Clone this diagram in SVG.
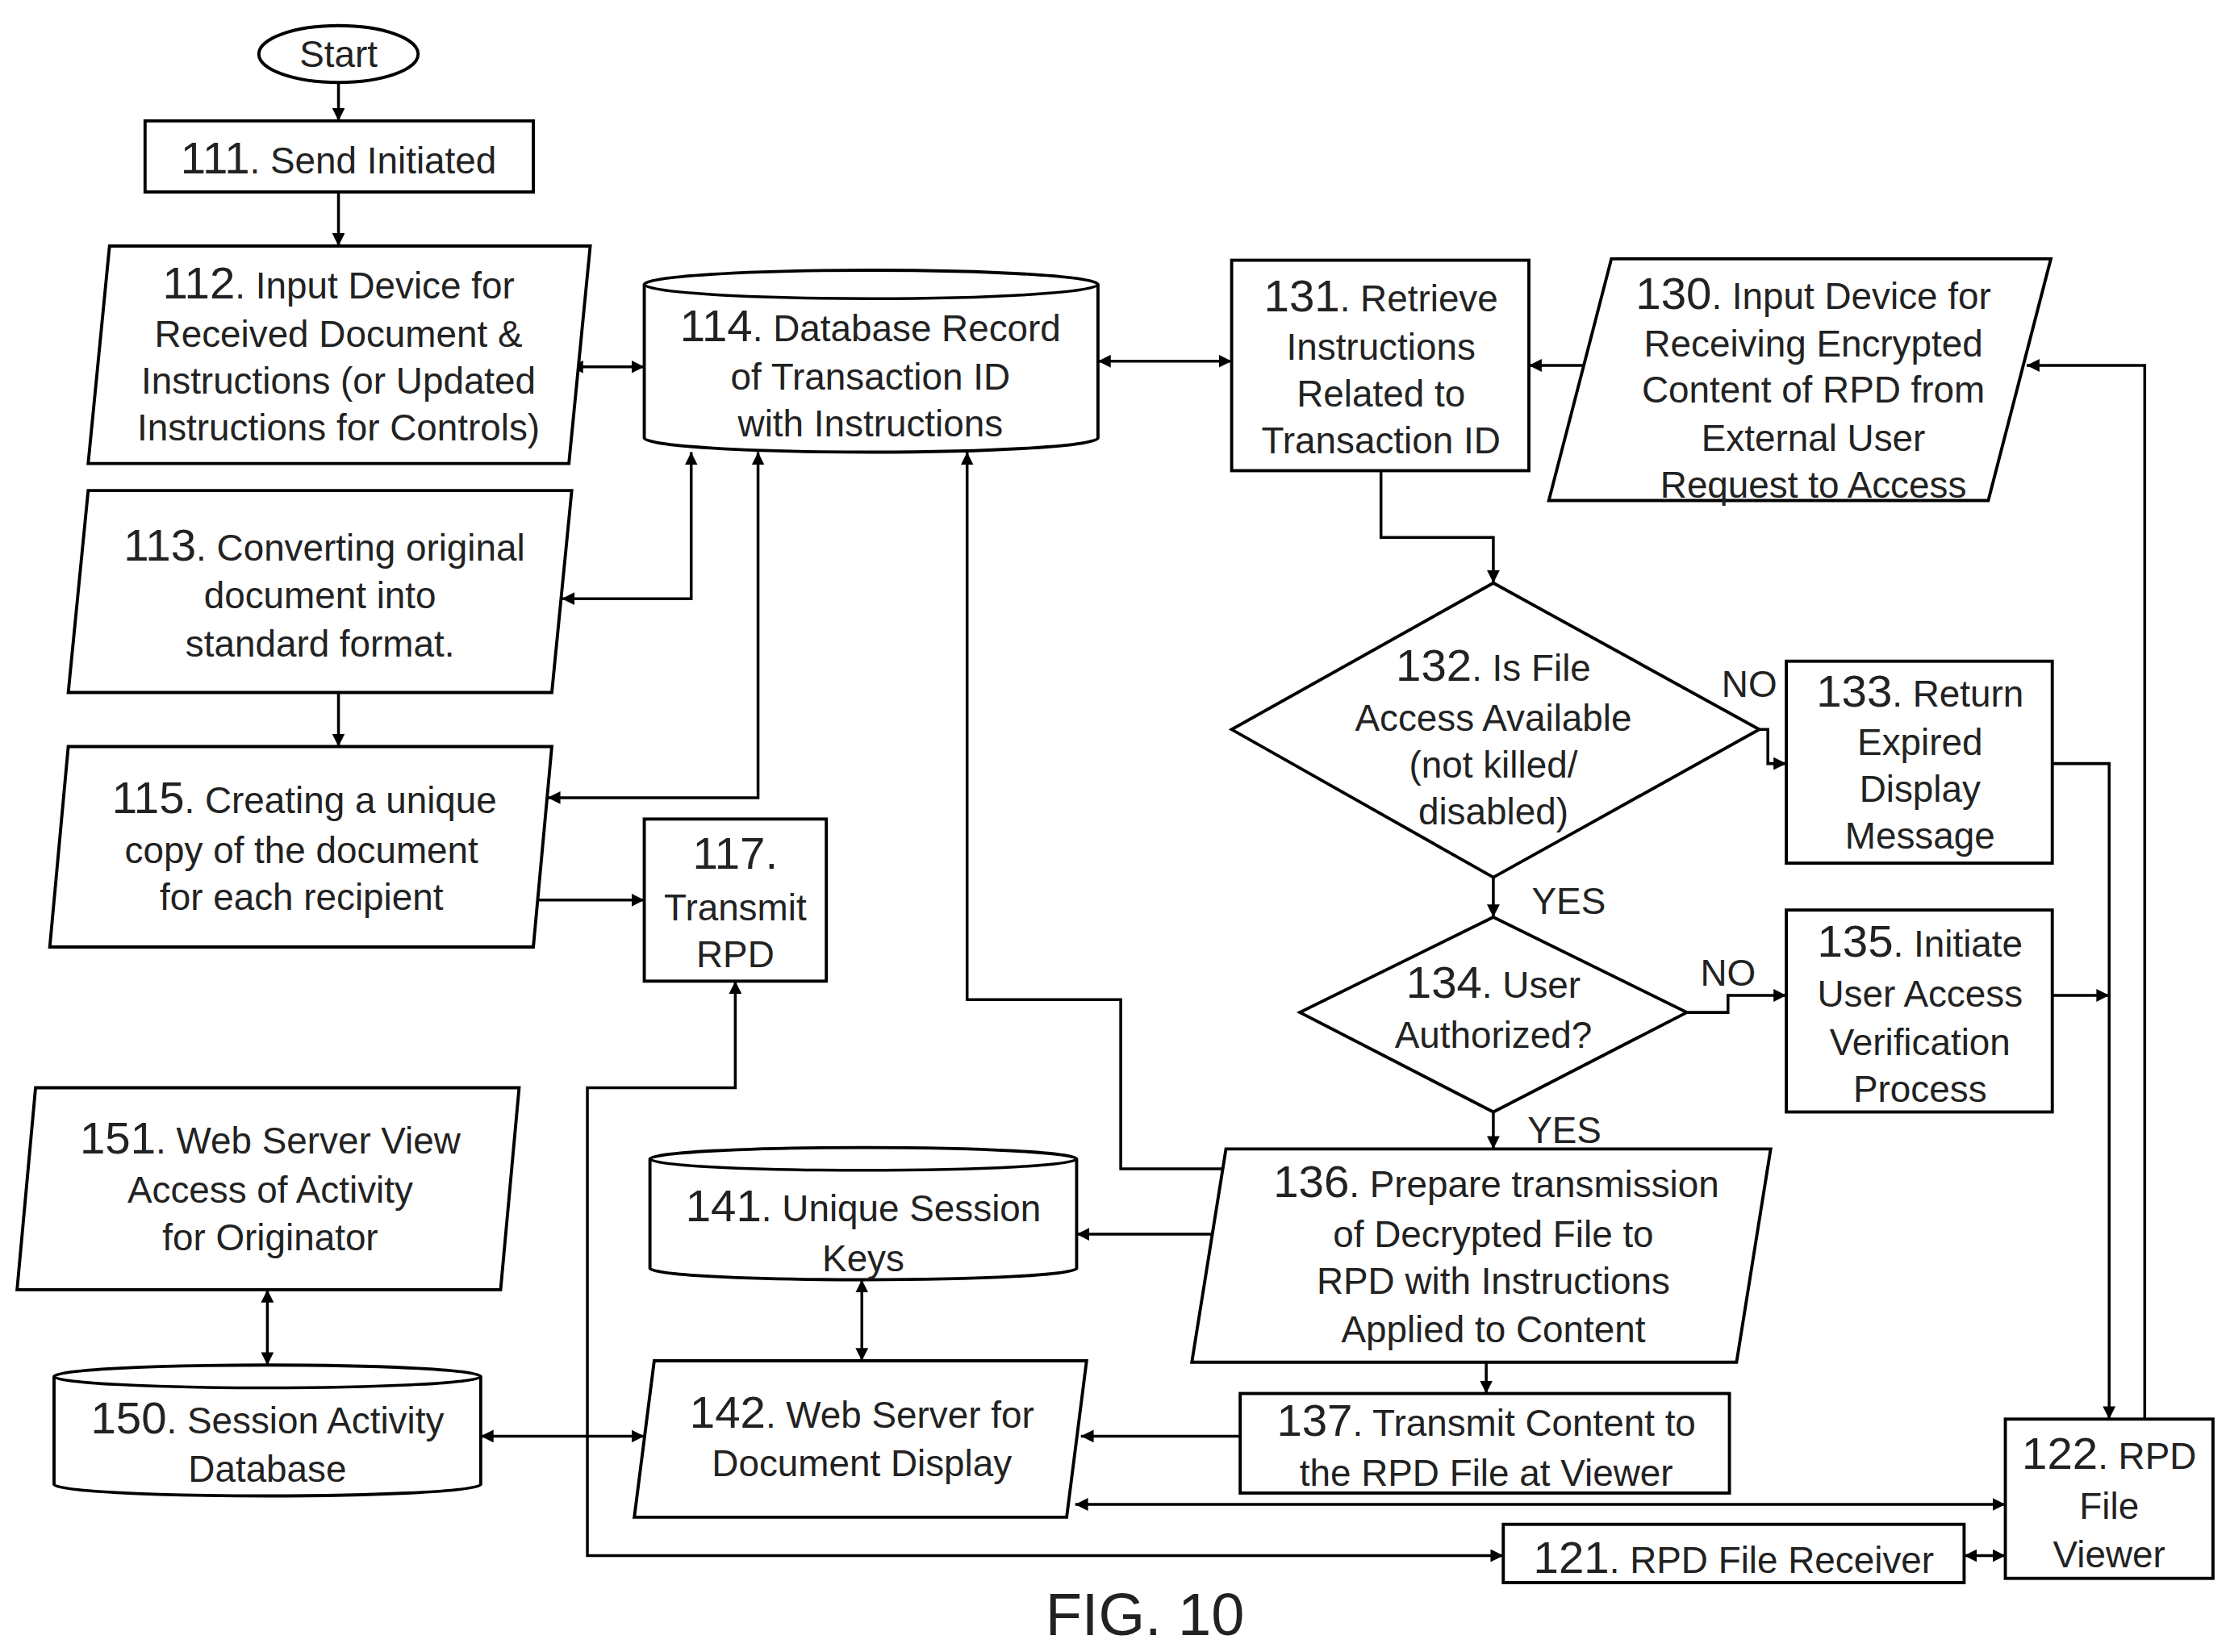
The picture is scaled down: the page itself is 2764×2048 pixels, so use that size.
<svg xmlns="http://www.w3.org/2000/svg" width="2764" height="2048" viewBox="0 0 2764 2048">
<style>
.s{fill:#fff;stroke:#000;stroke-width:2.2}
.c{fill:none;stroke:#000;stroke-width:2}
text{font-family:"Liberation Sans",Arial,sans-serif;font-size:26px;text-anchor:middle;fill:#222}
.n{font-size:32px}
</style>
<defs>
<marker id="a" viewBox="0 0 10 10" refX="10" refY="5" markerWidth="9" markerHeight="9" markerUnits="userSpaceOnUse" orient="auto-start-reverse"><path d="M0,0L10,5L0,10z" fill="#000"/></marker>
</defs>
<rect width="2764" height="2048" fill="#fff"/>
<g transform="scale(1.7628)">
<g id="connectors" class="c">
<path d="M238,58V85" marker-end="url(#a)"/>
<path d="M238,135V173" marker-end="url(#a)"/>
<path d="M401,258H453" marker-start="url(#a)" marker-end="url(#a)"/>
<path d="M395,421H486V318" marker-start="url(#a)" marker-end="url(#a)"/>
<path d="M385,561H533V318" marker-start="url(#a)" marker-end="url(#a)"/>
<path d="M238,487V525" marker-end="url(#a)"/>
<path d="M375,633H453" marker-end="url(#a)"/>
<path d="M772,254H866" marker-start="url(#a)" marker-end="url(#a)"/>
<path d="M1117,257H1075" marker-end="url(#a)"/>
<path d="M971,331V378H1050V410" marker-end="url(#a)"/>
<path d="M1237,513H1243V537H1256" marker-end="url(#a)"/>
<path d="M1050,617V645" marker-end="url(#a)"/>
<path d="M1186,712H1215V700H1256" marker-end="url(#a)"/>
<path d="M1050,782V808" marker-end="url(#a)"/>
<path d="M1443,537H1483V998" marker-end="url(#a)"/>
<path d="M1443,700H1483" marker-end="url(#a)"/>
<path d="M1508,998V257H1425" marker-end="url(#a)"/>
<path d="M680,318V703H788V822H872" marker-start="url(#a)" marker-end="url(#a)"/>
<path d="M862,868H757" marker-end="url(#a)"/>
<path d="M606,900V957" marker-start="url(#a)" marker-end="url(#a)"/>
<path d="M1045,958V980" marker-end="url(#a)"/>
<path d="M872,1010H760" marker-end="url(#a)"/>
<path d="M188,907V960" marker-start="url(#a)" marker-end="url(#a)"/>
<path d="M338,1010H453" marker-start="url(#a)" marker-end="url(#a)"/>
<path d="M756,1058H1410" marker-start="url(#a)" marker-end="url(#a)"/>
<path d="M1381,1094H1410" marker-start="url(#a)" marker-end="url(#a)"/>
<path d="M517,690V765H413V1094H1057" marker-start="url(#a)" marker-end="url(#a)"/>
</g>
<g id="start"><ellipse class="s" cx="238" cy="38" rx="56" ry="20"/><text x="238" y="47">Start</text></g>
<g id="n111"><rect class="s" x="102" y="85" width="273" height="50"/><text x="238" y="122"><tspan class="n">111</tspan>. Send Initiated</text></g>
<g id="n112"><polygon class="s" points="77,173 415,173 400,326 62,326"/><text x="238" y="210"><tspan class="n">112</tspan>. Input Device for</text><text x="238" y="244">Received Document &amp;</text><text x="238" y="277">Instructions (or Updated</text><text x="238" y="310">Instructions for Controls)</text></g>
<g id="n114"><path class="s" d="M453,200A159.5,10 0 0 1 772,200V308A159.5,10 0 0 1 453,308Z"/><path class="c" d="M453,200A159.5,10 0 0 0 772,200"/><text x="612" y="240"><tspan class="n">114</tspan>. Database Record</text><text x="612" y="274">of Transaction ID</text><text x="612" y="307">with Instructions</text></g>
<g id="n113"><polygon class="s" points="62,345 402,345 388,487 48,487"/><text x="228" y="394"><tspan class="n">113</tspan>. Converting original</text><text x="225" y="428">document into</text><text x="225" y="462">standard format.</text></g>
<g id="n115"><polygon class="s" points="48,525 388,525 375,666 35,666"/><text x="214" y="572"><tspan class="n">115</tspan>. Creating a unique</text><text x="212" y="607">copy of the document</text><text x="212" y="640">for each recipient</text></g>
<g id="n117"><rect class="s" x="453" y="576" width="128" height="114"/><text x="517" y="611" class="n">117.</text><text x="517" y="647">Transmit</text><text x="517" y="680">RPD</text></g>
<g id="n151"><polygon class="s" points="25,765 365,765 352,907 12,907"/><text x="190" y="811"><tspan class="n">151</tspan>. Web Server View</text><text x="190" y="846">Access of Activity</text><text x="190" y="879">for Originator</text></g>
<g id="n150"><path class="s" d="M38,968A150,8 0 0 1 338,968V1044A150,8 0 0 1 38,1044Z"/><path class="c" d="M38,968A150,8 0 0 0 338,968"/><text x="188" y="1008"><tspan class="n">150</tspan>. Session Activity</text><text x="188" y="1042">Database</text></g>
<g id="n141"><path class="s" d="M457,815A150,8 0 0 1 757,815V892A150,8 0 0 1 457,892Z"/><path class="c" d="M457,815A150,8 0 0 0 757,815"/><text x="607" y="859"><tspan class="n">141</tspan>. Unique Session</text><text x="607" y="894">Keys</text></g>
<g id="n142"><polygon class="s" points="460,957 764,957 750,1067 446,1067"/><text x="606" y="1004"><tspan class="n">142</tspan>. Web Server for</text><text x="606" y="1038">Document Display</text></g>
<g id="n131"><rect class="s" x="866" y="183" width="209" height="148"/><text x="971" y="219"><tspan class="n">131</tspan>. Retrieve</text><text x="971" y="253">Instructions</text><text x="971" y="286">Related to</text><text x="971" y="319">Transaction ID</text></g>
<g id="n130"><polygon class="s" points="1133,182 1442,182 1398,352 1089,352"/><text x="1275" y="217"><tspan class="n">130</tspan>. Input Device for</text><text x="1275" y="251">Receiving Encrypted</text><text x="1275" y="283">Content of RPD from</text><text x="1275" y="317">External User</text><text x="1275" y="350">Request to Access</text></g>
<g id="n132"><polygon class="s" points="1050,410 1237,513 1050,617 866,513"/><text x="1050" y="479"><tspan class="n">132</tspan>. Is File</text><text x="1050" y="514">Access Available</text><text x="1050" y="547">(not killed/</text><text x="1050" y="580">disabled)</text></g>
<g id="n133"><rect class="s" x="1256" y="465" width="187" height="142"/><text x="1350" y="497"><tspan class="n">133</tspan>. Return</text><text x="1350" y="531">Expired</text><text x="1350" y="564">Display</text><text x="1350" y="597">Message</text></g>
<g id="n134"><polygon class="s" points="1050,645 1186,712 1050,782 914,712"/><text x="1050" y="702"><tspan class="n">134</tspan>. User</text><text x="1050" y="737">Authorized?</text></g>
<g id="n135"><rect class="s" x="1256" y="640" width="187" height="142"/><text x="1350" y="673"><tspan class="n">135</tspan>. Initiate</text><text x="1350" y="708">User Access</text><text x="1350" y="742">Verification</text><text x="1350" y="775">Process</text></g>
<g id="n136"><polygon class="s" points="862,808 1245,808 1221,958 838,958"/><text x="1052" y="842"><tspan class="n">136</tspan>. Prepare transmission</text><text x="1050" y="877">of Decrypted File to</text><text x="1050" y="910">RPD with Instructions</text><text x="1050" y="944">Applied to Content</text></g>
<g id="n137"><rect class="s" x="872" y="980" width="344" height="70"/><text x="1045" y="1010"><tspan class="n">137</tspan>. Transmit Content to</text><text x="1045" y="1045">the RPD File at Viewer</text></g>
<g id="n121"><rect class="s" x="1057" y="1072" width="324" height="41"/><text x="1219" y="1106"><tspan class="n">121</tspan>. RPD File Receiver</text></g>
<g id="n122"><rect class="s" x="1410" y="998" width="146" height="112"/><text x="1483" y="1033"><tspan class="n">122</tspan>. RPD</text><text x="1483" y="1068">File</text><text x="1483" y="1102">Viewer</text></g>
<g id="labels"><text x="1230" y="490">NO</text><text x="1103" y="643">YES</text><text x="1215" y="693">NO</text><text x="1100" y="804">YES</text><text x="805" y="1150" style="font-size:42px">FIG. 10</text></g>
</g>
</svg>
